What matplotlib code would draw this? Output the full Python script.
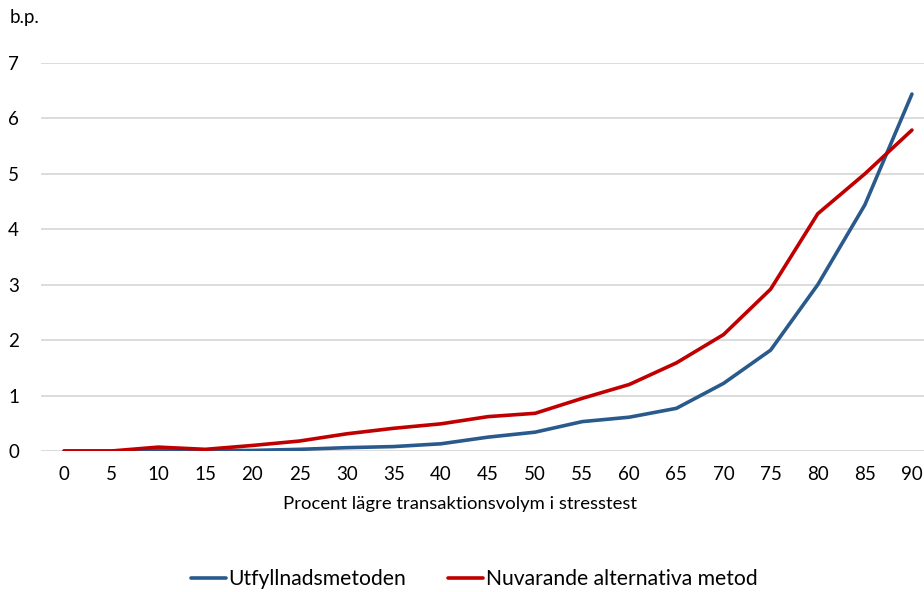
import matplotlib
matplotlib.use("Agg")
import matplotlib.pyplot as plt
import numpy as np

plt.rcParams['font.family'] = ['Lato', 'DejaVu Sans']

# procent lägre transaktionsvolym
volym = [0, 5, 10, 15, 20, 25, 30, 35, 40, 45, 50, 55, 60, 65, 70, 75, 80, 85, 90]

utfyllnad = [0, 0, 0.01, 0.01, 0.01, 0.03, 0.06, 0.08, 0.13, 0.25, 0.34, 0.53,
             0.61, 0.77, 1.22, 1.82, 3.0, 4.44, 6.44]
alternativ = [0, 0, 0.07, 0.03, 0.1, 0.18, 0.31, 0.41, 0.49, 0.62, 0.68, 0.95,
              1.2, 1.59, 2.1, 2.92, 4.28, 5.0, 5.79]

y_ticks = [0, 1, 2, 3, 4, 5, 6, 7]

W, H = 924, 592
fig = plt.figure(figsize=(W / 100, H / 100), dpi=100)
ax = fig.add_axes([40.5 / W, (H - 451) / H, (935.5 - 40.5) / W, 388 / H])

x = np.arange(len(volym))
ax.plot(x, utfyllnad, color='#2A5A8C', lw=2.6, label='Utfyllnadsmetoden',
        solid_capstyle='round', zorder=3)
ax.plot(x, alternativ, color='#C00000', lw=2.6, label='Nuvarande alternativa metod',
        solid_capstyle='round', zorder=3)

ax.set_xlim(-0.5, len(volym) - 0.5)
ax.set_ylim(0, 7)
ax.set_xticks(x)
ax.set_xticklabels([str(v) for v in volym], fontsize=13.5)
ax.set_yticks(y_ticks)
ax.set_yticklabels([str(v) for v in y_ticks], fontsize=13.5)
ax.tick_params(axis='x', length=0, pad=11)
ax.tick_params(axis='y', length=0, pad=15.5)
ax.grid(axis='y', color='#D9D9D9', lw=1.3)
ax.set_axisbelow(True)
for s in ax.spines.values():
    s.set_visible(False)

fig.text(460 / W, 1 - 504 / H, 'Procent lägre transaktionsvolym i stresstest',
         fontsize=13.3, ha='center', va='center')
fig.text(10 / W, 1 - 18 / H, 'b.p.', fontsize=13.5, va='center', ha='left')

fig.legend(loc='center', bbox_to_anchor=(474 / W, (H - 579) / H), ncol=2, frameon=False,
           fontsize=15.2, handlelength=1.65, handletextpad=0.12, columnspacing=2.0,
           borderpad=0.1)

fig.savefig('out.png', dpi=100)
